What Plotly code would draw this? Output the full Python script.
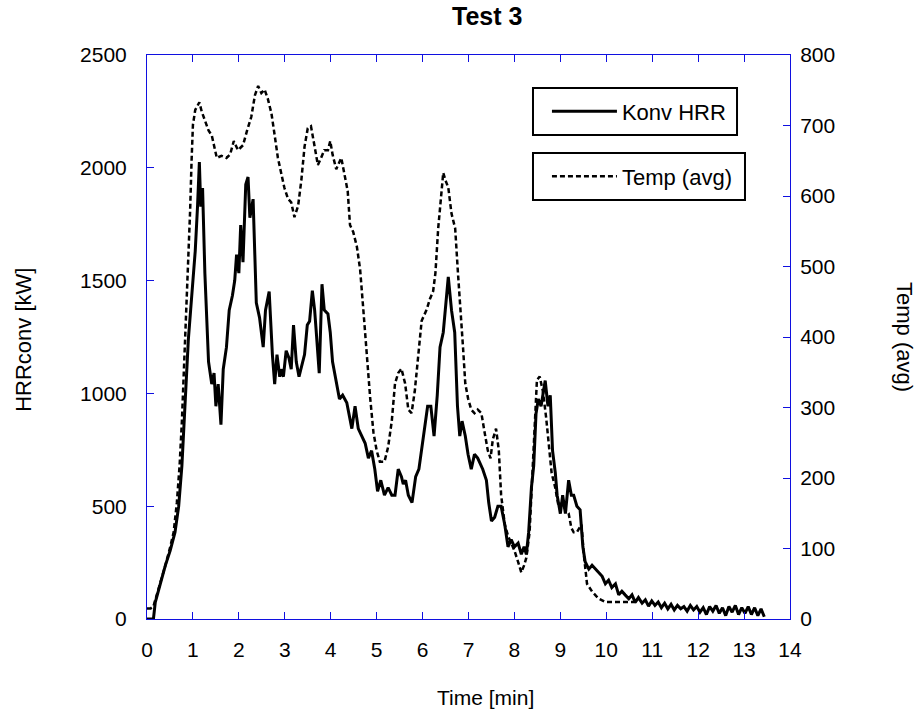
import plotly.graph_objects as go

# ---------------- data ----------------
hrr_t = [0.00, 0.10, 0.14, 0.18, 0.29, 0.40, 0.505, 0.61, 0.69, 0.76, 0.83, 0.90, 0.95, 1.00, 1.05, 1.10, 1.14, 1.17,
         1.21, 1.26, 1.34, 1.41, 1.46, 1.50, 1.55, 1.61, 1.66, 1.73, 1.79, 1.86, 1.91, 1.95, 2.00, 2.04, 2.09, 2.15,
         2.20, 2.24, 2.31, 2.38, 2.45, 2.53, 2.58, 2.66, 2.73, 2.78, 2.83, 2.89, 2.92, 2.97, 3.03, 3.09, 3.14, 3.19,
         3.25, 3.31, 3.38, 3.43, 3.49, 3.54, 3.60, 3.65, 3.68, 3.75, 3.81, 3.86, 3.94, 3.99, 4.04, 4.12, 4.19, 4.26,
         4.35, 4.46, 4.53, 4.60, 4.67, 4.75, 4.82, 4.89, 4.96, 5.02, 5.09, 5.17, 5.25, 5.33, 5.40, 5.47, 5.54, 5.58,
         5.63, 5.69, 5.77, 5.85, 5.92, 5.98, 6.05, 6.11, 6.18, 6.25, 6.32, 6.38, 6.45, 6.50, 6.56, 6.63, 6.70, 6.76,
         6.81, 6.86, 6.93, 6.99, 7.06, 7.13, 7.20, 7.31, 7.39, 7.44, 7.50, 7.57, 7.64, 7.71, 7.79, 7.86, 7.93, 8.00,
         8.08, 8.15, 8.21, 8.26, 8.31, 8.37, 8.42, 8.47, 8.52, 8.58, 8.62, 8.67, 8.73, 8.78, 8.83, 8.89, 8.93, 9.00,
         9.05, 9.11, 9.18, 9.24, 9.29, 9.36, 9.43, 9.49, 9.54, 9.62, 9.69, 9.76, 9.83, 9.91, 9.98, 10.05, 10.12, 10.20,
         10.27, 10.34, 10.41, 10.49, 10.56, 10.63, 10.70, 10.78, 10.85, 10.92, 10.99, 11.06, 11.13, 11.20, 11.27,
         11.34, 11.41, 11.48, 11.55, 11.62, 11.69, 11.76, 11.83, 11.90, 11.97, 12.04, 12.11, 12.18, 12.25, 12.32,
         12.39, 12.46, 12.53, 12.60, 12.67, 12.74, 12.81, 12.88, 12.95, 13.02, 13.09, 13.16, 13.23, 13.30, 13.37, 13.44]
hrr_v = [0, 0, 0, 74, 156, 238, 303, 385, 500, 680, 959, 1238, 1369, 1500, 1631, 1828, 2025, 1828,
         1910, 1533, 1140, 1041, 1090, 943, 1041, 861, 1107, 1205, 1369, 1434, 1500, 1615, 1533, 1746, 1582, 1926,
         1959, 1779, 1861, 1402, 1336, 1205, 1369, 1451, 1172, 1041, 1172, 1074, 1107, 1074, 1189, 1157, 1107, 1303,
         1140, 1074, 1140, 1172, 1303, 1320, 1455, 1369, 1287, 1090, 1484, 1369, 1352, 1270, 1140, 1041, 975, 992,
         959, 844, 943, 844, 811, 779, 713, 746, 664, 566, 615, 549, 582, 549, 549, 664, 631, 598,
         615, 549, 516, 631, 664, 746, 844, 943, 943, 811, 992, 1205, 1270, 1385, 1516, 1369, 1270, 943,
         811, 877, 811, 730, 664, 730, 713, 664, 615, 516, 434, 451, 500, 500, 418, 320, 352, 320,
         336, 287, 320, 287, 385, 582, 680, 910, 975, 943, 992, 1057, 943, 992, 746, 648, 549, 467,
         549, 467, 615, 549, 549, 500, 484, 320, 254, 221, 238, 221, 205, 189, 156, 172, 139, 156,
         107, 123, 107, 90, 107, 74, 95, 70, 85, 57, 80, 60, 75, 50, 70,
         45, 65, 40, 60, 45, 55, 35, 60, 40, 55, 30, 50, 20, 55, 35,
         60, 25, 50, 15, 55, 30, 60, 20, 50, 25, 55, 20, 50, 15, 45, 10]

temp_t = [0.00, 0.08, 0.14, 0.29, 0.40, 0.505, 0.58, 0.65, 0.71, 0.76, 0.81, 0.85, 0.90, 0.94, 0.97, 1.00, 1.05,
          1.10, 1.14, 1.19, 1.26, 1.34, 1.41, 1.46, 1.52, 1.62, 1.73, 1.81, 1.89, 1.98, 2.09, 2.18, 2.27, 2.35,
          2.42, 2.49, 2.56, 2.63, 2.71, 2.78, 2.85, 2.92, 2.99, 3.07, 3.14, 3.21, 3.29, 3.36, 3.43, 3.50, 3.57,
          3.65, 3.72, 3.79, 3.86, 3.94, 3.99, 4.04, 4.12, 4.23, 4.30, 4.37, 4.42, 4.49, 4.57, 4.64, 4.71, 4.78,
          4.86, 4.93, 5.00, 5.07, 5.17, 5.25, 5.33, 5.40, 5.47, 5.54, 5.62, 5.69, 5.76, 5.83, 5.90, 5.98, 6.09,
          6.16, 6.23, 6.28, 6.34, 6.40, 6.45, 6.50, 6.56, 6.63, 6.71, 6.77, 6.83, 6.88, 6.93, 6.99, 7.06, 7.13,
          7.20, 7.28, 7.35, 7.42, 7.48, 7.53, 7.60, 7.66, 7.71, 7.79, 7.86, 7.93, 8.00, 8.08, 8.15, 8.21, 8.26,
          8.33, 8.38, 8.44, 8.49, 8.55, 8.62, 8.69, 8.74, 8.81, 8.89, 8.96, 9.04, 9.11, 9.18, 9.24, 9.29, 9.36,
          9.46, 9.51, 9.58, 9.69, 9.83, 9.98, 10.20, 10.41, 10.70]
temp_v = [15, 15, 18, 50, 76, 102, 123, 165, 218, 281, 360, 439, 517, 581, 649, 701, 722,
          728, 733, 720, 706, 693, 686, 670, 654, 657, 654, 659, 678, 665, 672, 693, 712, 743,
          756, 746, 751, 738, 717, 686, 654, 633, 612, 596, 591, 570, 586, 622, 670, 696, 699,
          670, 644, 654, 665, 665, 678, 659, 638, 654, 633, 607, 559, 549, 528, 496, 439, 376,
          313, 265, 239, 223, 223, 244, 281, 334, 349, 355, 334, 297, 292, 323, 370, 423, 439,
          454, 465, 491, 554, 596, 633, 622, 612, 575, 554, 491, 439, 386, 334, 313, 297, 292,
          297, 292, 265, 239, 228, 255, 270, 239, 176, 134, 118, 108, 97, 81, 66, 76, 87,
          123, 197, 271, 339, 344, 323, 286, 255, 207, 186, 160, 165, 155, 150, 129, 123, 123,
          134, 92, 50, 39, 29, 24, 24, 24, 24]

x_ticks = list(range(0, 15))
left_ticks = [0, 500, 1000, 1500, 2000, 2500]
right_ticks = [0, 100, 200, 300, 400, 500, 600, 700, 800]

# ---------------- figure ----------------
BLUE = "#1010e0"
FONT = "Liberation Sans, Arial, sans-serif"
FS = 21

fig = go.Figure()
fig.add_trace(go.Scatter(x=hrr_t, y=hrr_v, mode="lines", name="Konv HRR",
                         line=dict(color="black", width=3), legend="legend", showlegend=True))
fig.add_trace(go.Scatter(x=temp_t, y=temp_v, mode="lines", name="Temp (avg)", yaxis="y2",
                         line=dict(color="black", width=2.5, dash="5px,3px"), legend="legend2",
                         showlegend=True))

axis_common = dict(showgrid=False, zeroline=False, showline=True, linecolor=BLUE, linewidth=1,
                   ticks="inside", tickcolor=BLUE, ticklen=7, tickwidth=1,
                   tickfont=dict(family=FONT, size=FS, color="black"))

fig.update_layout(
    width=920, height=722,
    margin=dict(l=147, r=130, t=55, b=103),
    paper_bgcolor="white", plot_bgcolor="white",
    showlegend=True,
    font=dict(family=FONT, size=FS, color="black"),
    xaxis=dict(range=[0, 14], tickvals=x_ticks, mirror="ticks", ticklabelstandoff=12,
               **axis_common),
    yaxis=dict(range=[0, 2500], tickvals=left_ticks, ticklabelstandoff=15,
               **axis_common),
    yaxis2=dict(range=[0, 800], tickvals=right_ticks, overlaying="y", side="right",
                ticklabelstandoff=5, **axis_common),
    legend=dict(x=0.622, y=0.900, xanchor="left", yanchor="middle", bgcolor="rgba(0,0,0,0)",
                borderwidth=0, itemwidth=65, font=dict(family=FONT, size=22)),
    legend2=dict(x=0.622, y=0.7846, xanchor="left", yanchor="middle", bgcolor="rgba(0,0,0,0)",
                 borderwidth=0, itemwidth=65, font=dict(family=FONT, size=22)),
    shapes=[
        dict(type="rect", xref="paper", yref="paper", x0=0.6003, x1=0.9176, y0=0.8582, y1=0.9415,
             line=dict(color="black", width=2), fillcolor="rgba(0,0,0,0)"),
        dict(type="rect", xref="paper", yref="paper", x0=0.6003, x1=0.930, y0=0.7429, y1=0.8262,
             line=dict(color="black", width=2), fillcolor="rgba(0,0,0,0)"),
    ],
    annotations=[
        dict(text="<b>Test 3</b>", xref="paper", yref="paper", x=0.5295, y=1.0686,
             showarrow=False, font=dict(family=FONT, size=25, color="black"),
             xanchor="center", yanchor="middle"),
        dict(text="Time [min]", xref="paper", yref="paper", x=0.526, y=-0.1383,
             showarrow=False, font=dict(family=FONT, size=FS, color="black"),
             xanchor="center", yanchor="middle"),
        dict(text="HRRconv [kW]", xref="paper", yref="paper", x=-0.1913, y=0.495, textangle=-90,
             showarrow=False, font=dict(family=FONT, size=22, color="black"),
             xanchor="center", yanchor="middle"),
        dict(text="Temp (avg)", xref="paper", yref="paper", x=1.1788, y=0.5, textangle=90,
             showarrow=False, font=dict(family=FONT, size=22, color="black"),
             xanchor="center", yanchor="middle"),
    ],
)

fig.write_html("out.html")
